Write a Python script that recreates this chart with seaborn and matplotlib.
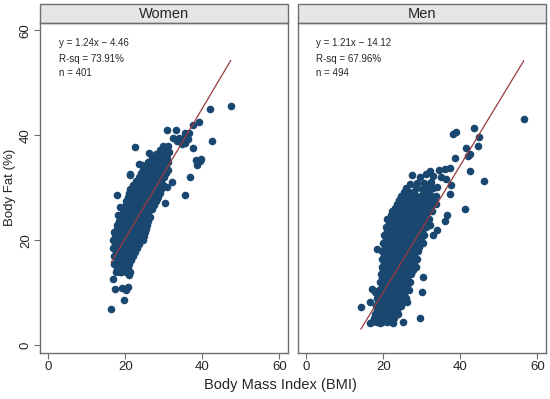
import matplotlib
matplotlib.use("Agg")
import matplotlib.pyplot as plt
import seaborn as sns
import pandas as pd
from matplotlib.patches import Rectangle

# (BMI, body fat %); dense core approximated row by row
women_points = [
    # sparse / outlying points
    (47.4, 45.6), (42.1, 45.0), (39.1, 42.5), (37.6, 42.0), (42.5, 39.0),
    (30.8, 41.1), (33.2, 41.0), (22.6, 37.7), (26.1, 36.7), (21.3, 32.6),
    (36.9, 32.0), (17.8, 28.6), (35.4, 28.7), (39.5, 35.2), (38.6, 34.3),
    (34.3, 39.0), (36.4, 39.4), (35.6, 38.5), (33.4, 39.0), (34.7, 38.4),
    (18.7, 26.3), (18.0, 24.9), (30.4, 27.2), (16.8, 12.7), (17.4, 10.7),
    (19.1, 11.0), (20.2, 10.6), (20.6, 11.1), (19.7, 8.7), (16.3, 6.9),
    (20.9, 13.3), (17.8, 14.6), (18.7, 14.0), (20.0, 14.6), (28.6, 36.5),
    (30.8, 37.8), (31.3, 36.8), (37.6, 37.6), (38.4, 35.3), (39.7, 35.5),
    (23.5, 34.6), (24.3, 34.3), (21.1, 32.5), (32.1, 31.1), (30.8, 30.2),
    (21.3, 29.8), (21.7, 29.2), (28.2, 27.9),
    # dense core
    (17.5, 14.0), (18.8, 14.0), (20.2, 14.0), (21.3, 14.0),
    (18.1, 14.75), (19.5, 14.75), (20.7, 14.75),
    (17.2, 15.5), (18.5, 15.5), (19.8, 15.5), (21.0, 15.5),
    (17.8, 16.25), (19.1, 16.25), (20.4, 16.25), (21.5, 16.25),
    (17.0, 17.0), (18.3, 17.0), (19.6, 17.0), (20.9, 17.0), (22.0, 17.0),
    (17.6, 17.75), (18.9, 17.75), (20.2, 17.75), (21.4, 17.75), (22.5, 17.75),
    (16.8, 18.5), (18.1, 18.5), (19.4, 18.5), (20.7, 18.5), (22.0, 18.5), (23.0, 18.5),
    (17.4, 19.25), (18.7, 19.25), (20.0, 19.25), (21.3, 19.25), (22.6, 19.25), (23.6, 19.25),
    (16.7, 20.0), (18.0, 20.0), (19.3, 20.0), (20.6, 20.0), (21.9, 20.0), (23.2, 20.0), (24.5, 20.0),
    (17.3, 20.75), (18.6, 20.75), (19.9, 20.75), (21.2, 20.75), (22.5, 20.75), (23.8, 20.75), (24.8, 20.75),
    (17.2, 21.5), (18.5, 21.5), (19.8, 21.5), (21.1, 21.5), (22.4, 21.5), (23.7, 21.5), (25.0, 21.5),
    (17.8, 22.25), (19.1, 22.25), (20.4, 22.25), (21.7, 22.25), (23.0, 22.25), (24.3, 22.25), (25.3, 22.25),
    (17.8, 23.0), (19.1, 23.0), (20.4, 23.0), (21.7, 23.0), (23.0, 23.0), (24.3, 23.0), (25.6, 23.0),
    (18.4, 23.75), (19.7, 23.75), (21.0, 23.75), (22.3, 23.75), (23.6, 23.75), (24.9, 23.75), (26.0, 23.75),
    (18.8, 24.5), (20.1, 24.5), (21.4, 24.5), (22.7, 24.5), (24.0, 24.5), (25.3, 24.5), (26.3, 24.5),
    (19.4, 25.25), (20.7, 25.25), (22.0, 25.25), (23.3, 25.25), (24.6, 25.25), (25.9, 25.25),
    (19.5, 26.0), (20.8, 26.0), (22.1, 26.0), (23.4, 26.0), (24.7, 26.0), (26.0, 26.0), (27.0, 26.0),
    (20.1, 26.75), (21.4, 26.75), (22.7, 26.75), (24.0, 26.75), (25.3, 26.75), (26.6, 26.75), (27.5, 26.75),
    (20.2, 27.5), (21.5, 27.5), (22.8, 27.5), (24.1, 27.5), (25.4, 27.5), (26.7, 27.5), (28.0, 27.5),
    (20.8, 28.25), (22.1, 28.25), (23.4, 28.25), (24.7, 28.25), (26.0, 28.25), (27.3, 28.25), (28.5, 28.25),
    (21.0, 29.0), (22.3, 29.0), (23.6, 29.0), (24.9, 29.0), (26.2, 29.0), (27.5, 29.0), (29.0, 29.0),
    (21.6, 29.75), (22.9, 29.75), (24.2, 29.75), (25.5, 29.75), (26.8, 29.75), (28.1, 29.75), (29.4, 29.75),
    (22.0, 30.5), (23.3, 30.5), (24.6, 30.5), (25.9, 30.5), (27.2, 30.5), (28.5, 30.5), (29.8, 30.5),
    (22.8, 31.25), (24.1, 31.25), (25.4, 31.25), (26.7, 31.25), (28.0, 31.25), (29.3, 31.25),
    (23.5, 32.0), (24.8, 32.0), (26.1, 32.0), (27.4, 32.0), (28.7, 32.0), (30.0, 32.0),
    (24.1, 32.75), (25.4, 32.75), (26.7, 32.75), (28.0, 32.75), (29.3, 32.75), (30.5, 32.75),
    (24.5, 33.5), (25.8, 33.5), (27.1, 33.5), (28.4, 33.5), (29.7, 33.5), (31.0, 33.5),
    (25.3, 34.25), (26.6, 34.25), (27.9, 34.25), (29.2, 34.25), (30.5, 34.25),
    (26.0, 35.0), (27.3, 35.0), (28.6, 35.0), (29.9, 35.0), (31.2, 35.0),
    (27.0, 35.75), (28.3, 35.75), (29.6, 35.75), (30.9, 35.75),
    (28.0, 36.5), (29.3, 36.5), (30.6, 36.5),
    (29.0, 37.25), (30.2, 37.25),
    (29.8, 38.0), (31.0, 38.0),
    (32.5, 39.5), (34.0, 39.5), (35.2, 39.5),
    (35.5, 40.5), (36.5, 40.5),
]

men_points = [
    # sparse / outlying points
    (56.5, 43.2), (43.5, 41.4), (38.9, 40.6), (38.2, 40.2), (44.9, 39.7),
    (44.6, 38.0), (41.5, 37.6), (42.5, 36.4), (42.0, 36.0), (38.6, 35.7),
    (42.6, 33.3), (46.2, 31.4), (27.5, 32.4), (37.7, 30.5), (37.3, 28.9),
    (41.2, 26.0), (36.0, 23.7), (36.6, 24.8), (33.9, 21.9), (33.0, 21.0),
    (32.1, 22.9), (18.3, 18.4), (21.1, 24.1), (30.4, 13.1), (30.0, 10.2),
    (26.1, 8.3), (17.0, 10.8), (16.6, 8.2), (14.2, 7.2), (16.6, 4.2),
    (19.2, 4.2), (22.5, 4.2), (25.2, 4.4), (29.5, 5.2), (23.8, 5.9),
    (30.0, 29.7), (32.1, 30.3), (18.7, 10.3), (17.8, 10.1),
    (27.0, 30.8), (28.8, 31.0), (30.5, 30.9), (32.3, 31.2), (29.5, 32.0),
    (31.0, 32.6), (33.0, 32.2), (32.1, 33.2), (34.6, 33.4), (36.0, 33.6),
    (37.3, 33.7), (35.0, 32.0), (36.2, 31.6), (34.0, 30.2),
    # dense core
    (17.0, 4.5), (18.3, 4.5), (19.6, 4.5), (20.9, 4.5), (22.2, 4.5),
    (17.6, 5.25), (18.9, 5.25), (20.2, 5.25), (21.5, 5.25), (22.7, 5.25),
    (17.8, 6.0), (19.1, 6.0), (20.4, 6.0), (21.7, 6.0), (23.0, 6.0),
    (18.4, 6.75), (19.7, 6.75), (21.0, 6.75), (22.3, 6.75), (23.5, 6.75),
    (18.0, 7.5), (19.3, 7.5), (20.6, 7.5), (21.9, 7.5), (23.2, 7.5), (24.5, 7.5),
    (18.7, 8.25), (20.0, 8.25), (21.3, 8.25), (22.6, 8.25), (23.9, 8.25), (25.0, 8.25),
    (18.4, 9.0), (19.7, 9.0), (21.0, 9.0), (22.3, 9.0), (23.6, 9.0), (24.9, 9.0), (26.0, 9.0),
    (19.0, 9.75), (20.3, 9.75), (21.6, 9.75), (22.9, 9.75), (24.2, 9.75), (25.5, 9.75),
    (19.0, 10.5), (20.3, 10.5), (21.6, 10.5), (22.9, 10.5), (24.2, 10.5), (25.5, 10.5), (26.8, 10.5),
    (19.6, 11.25), (20.9, 11.25), (22.2, 11.25), (23.5, 11.25), (24.8, 11.25), (26.1, 11.25),
    (19.2, 12.0), (20.5, 12.0), (21.8, 12.0), (23.1, 12.0), (24.4, 12.0), (25.7, 12.0), (27.0, 12.0),
    (19.8, 12.75), (21.1, 12.75), (22.4, 12.75), (23.7, 12.75), (25.0, 12.75), (26.3, 12.75),
    (19.4, 13.5), (20.7, 13.5), (22.0, 13.5), (23.3, 13.5), (24.6, 13.5), (25.9, 13.5), (27.2, 13.5),
    (20.0, 14.25), (21.3, 14.25), (22.6, 14.25), (23.9, 14.25), (25.2, 14.25), (26.5, 14.25), (27.6, 14.25),
    (19.6, 15.0), (20.9, 15.0), (22.2, 15.0), (23.5, 15.0), (24.8, 15.0), (26.1, 15.0), (27.4, 15.0), (28.5, 15.0),
    (20.2, 15.75), (21.5, 15.75), (22.8, 15.75), (24.1, 15.75), (25.4, 15.75), (26.7, 15.75), (28.0, 15.75),
    (19.6, 16.5), (20.9, 16.5), (22.2, 16.5), (23.5, 16.5), (24.8, 16.5), (26.1, 16.5), (27.4, 16.5), (28.7, 16.5),
    (20.2, 17.25), (21.5, 17.25), (22.8, 17.25), (24.1, 17.25), (25.4, 17.25), (26.7, 17.25), (28.0, 17.25),
    (19.8, 18.0), (21.1, 18.0), (22.4, 18.0), (23.7, 18.0), (25.0, 18.0), (26.3, 18.0), (27.6, 18.0), (28.9, 18.0),
    (20.4, 18.75), (21.7, 18.75), (23.0, 18.75), (24.3, 18.75), (25.6, 18.75), (26.9, 18.75), (28.2, 18.75), (29.4, 18.75),
    (20.0, 19.5), (21.3, 19.5), (22.6, 19.5), (23.9, 19.5), (25.2, 19.5), (26.5, 19.5), (27.8, 19.5), (29.1, 19.5), (30.2, 19.5),
    (20.6, 20.25), (21.9, 20.25), (23.2, 20.25), (24.5, 20.25), (25.8, 20.25), (27.1, 20.25), (28.4, 20.25), (29.7, 20.25),
    (20.3, 21.0), (21.6, 21.0), (22.9, 21.0), (24.2, 21.0), (25.5, 21.0), (26.8, 21.0), (28.1, 21.0), (29.4, 21.0), (30.6, 21.0),
    (21.0, 21.75), (22.3, 21.75), (23.6, 21.75), (24.9, 21.75), (26.2, 21.75), (27.5, 21.75), (28.8, 21.75), (30.1, 21.75),
    (20.8, 22.5), (22.1, 22.5), (23.4, 22.5), (24.7, 22.5), (26.0, 22.5), (27.3, 22.5), (28.6, 22.5), (29.9, 22.5), (31.2, 22.5),
    (21.4, 23.25), (22.7, 23.25), (24.0, 23.25), (25.3, 23.25), (26.6, 23.25), (27.9, 23.25), (29.2, 23.25), (30.5, 23.25),
    (21.5, 24.0), (22.8, 24.0), (24.1, 24.0), (25.4, 24.0), (26.7, 24.0), (28.0, 24.0), (29.3, 24.0), (30.6, 24.0), (31.8, 24.0),
    (22.1, 24.75), (23.4, 24.75), (24.7, 24.75), (26.0, 24.75), (27.3, 24.75), (28.6, 24.75), (29.9, 24.75), (31.2, 24.75),
    (22.4, 25.5), (23.7, 25.5), (25.0, 25.5), (26.3, 25.5), (27.6, 25.5), (28.9, 25.5), (30.2, 25.5), (31.5, 25.5), (32.6, 25.5),
    (23.0, 26.25), (24.3, 26.25), (25.6, 26.25), (26.9, 26.25), (28.2, 26.25), (29.5, 26.25), (30.8, 26.25), (32.0, 26.25),
    (23.5, 27.0), (24.8, 27.0), (26.1, 27.0), (27.4, 27.0), (28.7, 27.0), (30.0, 27.0), (31.3, 27.0), (32.6, 27.0), (33.8, 27.0),
    (24.1, 27.75), (25.4, 27.75), (26.7, 27.75), (28.0, 27.75), (29.3, 27.75), (30.6, 27.75), (31.9, 27.75), (33.1, 27.75),
    (24.6, 28.5), (25.9, 28.5), (27.2, 28.5), (28.5, 28.5), (29.8, 28.5), (31.1, 28.5), (32.4, 28.5), (33.7, 28.5),
    (25.3, 29.25), (26.6, 29.25), (27.9, 29.25), (30.5, 29.25), (31.8, 29.25),
    (26.0, 30.0), (28.6, 30.0), (31.2, 30.0), (32.8, 30.0),
]

groups = ["Women", "Men"]
slopes = [1.24, 1.21]
intercepts = [-4.46, -14.12]
rsq = ["73.91%", "67.96%"]
n_obs = [401, 494]
fit_text = ["y = 1.24x \u2212 4.46", "y = 1.21x \u2212 14.12"]

rows = []
for g, pts in zip(groups, [women_points, men_points]):
    for x, y in pts:
        rows.append({"sex": g, "bmi": x, "fat": y})
df = pd.DataFrame(rows)

sns.set_style("white")
plt.rcParams["font.family"] = ["Liberation Sans", "DejaVu Sans"]

navy = "#1a476f"
maroon = "#9b3a3f"
frame = "#6e6e6e"

g = sns.FacetGrid(df, col="sex", col_order=groups, sharey=True, sharex=True,
                  height=3.3, aspect=0.8, despine=False)
g.map_dataframe(sns.scatterplot, x="bmi", y="fat", color=navy, s=30,
                linewidth=0, alpha=1)
g.figure.set_size_inches(5.5, 3.99)
g.figure.subplots_adjust(left=0.073, right=0.993, bottom=0.115, top=0.942, wspace=0.04)
g.set_titles("")
g.set_axis_labels("", "")

text_x = [0.074, 0.071]
for i, ax in enumerate(g.axes.flat):
    sub = df[df["sex"] == groups[i]]
    xs = [sub["bmi"].min(), sub["bmi"].max()]
    ys = [slopes[i] * v + intercepts[i] for v in xs]
    ax.plot(xs, ys, color=maroon, lw=0.9)
    ax.set_xlim(-2.1, 62.3)
    ax.set_ylim(-1.5, 61.4)
    ax.set_xticks([0, 20, 40, 60])
    ax.set_yticks([0, 20, 40, 60])
    ax.tick_params(axis="x", length=4, width=0.8, color=frame, labelsize=9.5, pad=2,
                   bottom=True)
    ax.tick_params(axis="y", length=4, width=0.8, color=frame, labelsize=9.5, pad=2,
                   left=(i == 0))
    for lab in ax.get_yticklabels():
        lab.set_rotation(90)
        lab.set_va("center")
    for sp in ax.spines.values():
        sp.set_color(frame)
        sp.set_linewidth(1.0)
    # strip header
    ax.add_patch(Rectangle((0, 1.0), 1, 0.058, transform=ax.transAxes,
                           facecolor="#e6e6e6", edgecolor=frame, lw=1.0,
                           clip_on=False))
    ax.text(0.5, 1.029, groups[i], transform=ax.transAxes, ha="center",
            va="center", fontsize=10.5)
    ax.text(text_x[i], 0.939, fit_text[i], transform=ax.transAxes, fontsize=7, va="center")
    ax.text(text_x[i], 0.892, "R-sq = " + rsq[i], transform=ax.transAxes, fontsize=7, va="center")
    ax.text(text_x[i], 0.848, "n = %d" % n_obs[i], transform=ax.transAxes, fontsize=7, va="center")

g.figure.text(0.51, 0.035, "Body Mass Index (BMI)", ha="center", va="center", fontsize=10.5)
g.figure.text(0.018, 0.53, "Body Fat (%)", ha="center", va="center", rotation=90, fontsize=9.5)

g.figure.savefig("out.png", dpi=100, facecolor="white")
